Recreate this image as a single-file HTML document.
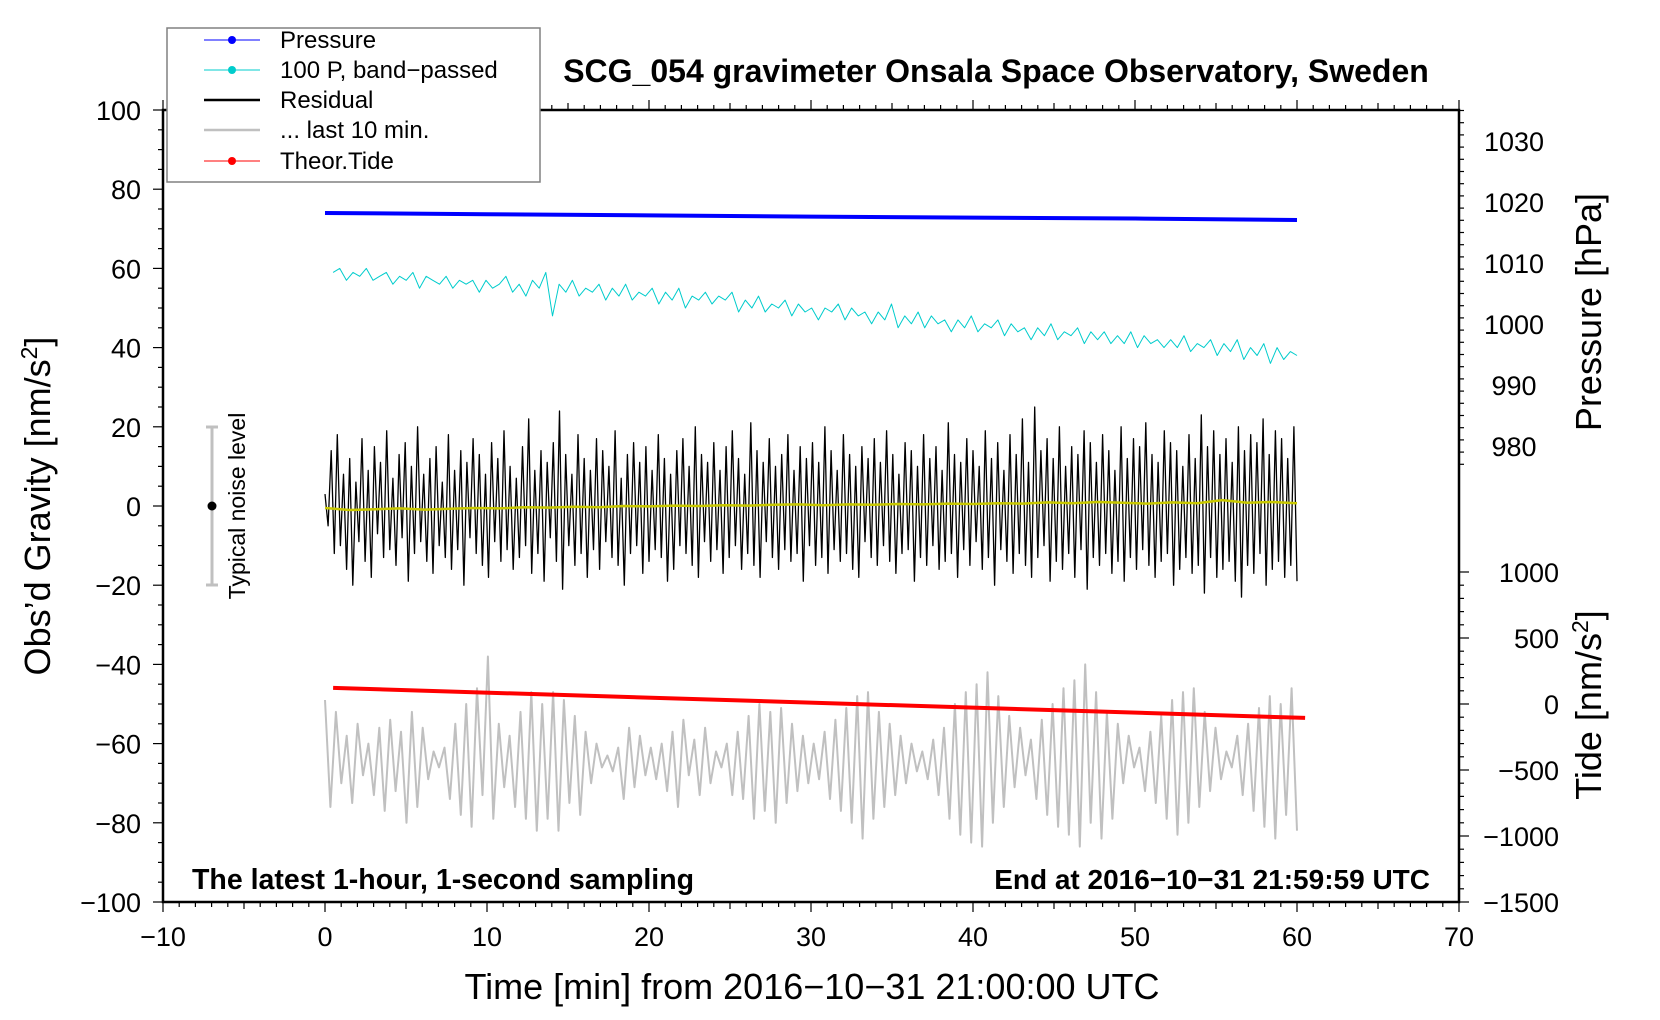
<!DOCTYPE html>
<html><head><meta charset="utf-8"><style>
html,body{margin:0;padding:0;background:#fff;width:1660px;height:1020px;overflow:hidden}
svg{display:block}
text{font-family:"Liberation Sans",sans-serif;fill:#000}
</style></head><body>
<svg id="chart" width="1660" height="1020" viewBox="0 0 1660 1020" xmlns="http://www.w3.org/2000/svg">
<g id="axes"></g>
<g id="series"></g>
<text x="996" y="82" font-size="32" font-weight="bold" text-anchor="middle">SCG_054 gravimeter Onsala Space Observatory, Sweden</text>
<text x="192" y="889" font-size="28.5" font-weight="bold">The latest 1-hour, 1-second sampling</text>
<text x="1430" y="889" font-size="28" font-weight="bold" text-anchor="end">End at 2016−10−31 21:59:59 UTC</text>
<text x="812" y="999" font-size="36" text-anchor="middle">Time [min] from 2016−10−31 21:00:00 UTC</text>
<text transform="translate(50,506) rotate(-90)" font-size="36" text-anchor="middle">Obs’d Gravity [nm/s<tspan font-size="23" dy="-13">2</tspan><tspan dy="13">]</tspan></text>
<text transform="translate(1601,312) rotate(-90)" font-size="36" text-anchor="middle">Pressure [hPa]</text>
<text transform="translate(1601,705) rotate(-90)" font-size="36" text-anchor="middle">Tide [nm/s<tspan font-size="23" dy="-13">2</tspan><tspan dy="13">]</tspan></text>
<g>
<line x1="212" y1="427" x2="212" y2="585" stroke="#c0c0c0" stroke-width="3"/>
<line x1="206" y1="427" x2="218" y2="427" stroke="#c0c0c0" stroke-width="3"/>
<line x1="206" y1="585" x2="218" y2="585" stroke="#c0c0c0" stroke-width="3"/>
<circle cx="212" cy="506" r="4.5" fill="#000"/>
<text transform="translate(245,506) rotate(-90)" font-size="23" text-anchor="middle">Typical noise level</text>
</g>
<g>
<rect x="167" y="28" width="373" height="154" fill="#fff" stroke="#808080" stroke-width="1.5"/>
<g><line x1="204" y1="40" x2="260" y2="40" stroke="#0000ff" stroke-width="1"/><circle cx="232" cy="40" r="4" fill="#0000ff"/><text x="280" y="48" font-size="24">Pressure</text></g>
<g><line x1="204" y1="70" x2="260" y2="70" stroke="#00cccc" stroke-width="1"/><circle cx="232" cy="70" r="4" fill="#00cccc"/><text x="280" y="78" font-size="24">100 P, band−passed</text></g>
<g><line x1="204" y1="100" x2="260" y2="100" stroke="#000" stroke-width="2.5"/><text x="280" y="108" font-size="24">Residual</text></g>
<g><line x1="204" y1="130" x2="260" y2="130" stroke="#c0c0c0" stroke-width="2.5"/><text x="280" y="138" font-size="24">... last 10 min.</text></g>
<g><line x1="204" y1="161" x2="260" y2="161" stroke="#ff0000" stroke-width="1"/><circle cx="232" cy="161" r="4" fill="#ff0000"/><text x="280" y="169" font-size="24">Theor.Tide</text></g>
</g>
</svg>
<script>
const xTicks=[-10,0,10,20,30,40,50,60,70];
const yTicks=[-100,-80,-60,-40,-20,0,20,40,60,80,100];
const pTicks=[980,990,1000,1010,1020,1030];
const tideTicks=[-1500,-1000,-500,0,500,1000];
const pressureTimes=[0,10,20,30,40,50,60];
const pressureVals=[1018.2,1018.0,1017.8,1017.6,1017.45,1017.3,1017.05];
const bandVals=[59,60,57,59,58,60,57,58,59,56,58,57,59,55,58,57,56,58,55,57,56,57,54,57,55,56,58,54,56,53,57,55,59,48,56,54,57,53,55,54,56,52,55,53,56,52,54,53,55,51,54,52,55,50,53,52,54,51,53,52,54,49,52,50,53,49,51,50,52,48,51,49,50,47,50,49,51,47,50,48,49,46,49,47,51,45,48,46,49,45,48,46,47,44,47,45,48,44,46,45,47,43,46,44,45,42,45,43,46,42,44,43,45,41,44,42,44,41,43,41,44,40,43,41,42,40,42,40,43,39,41,40,42,38,41,39,42,37,40,38,41,36,40,37,39,38];
const residVals=[3,-5,14,-12,18,-10,8,-16,12,-20,6,-9,17,-14,9,-18,15,-7,11,-13,19,-11,7,-15,13,-8,16,-19,10,-12,20,-9,8,-14,12,-17,15,-10,6,-13,18,-16,9,-11,14,-20,11,-8,17,-12,13,-15,8,-18,16,-9,12,-14,19,-11,10,-16,7,-13,15,-10,22,-17,9,-12,14,-19,11,-8,16,-14,24,-21,13,-10,8,-15,18,-12,12,-18,9,-11,17,-16,14,-9,10,-13,19,-15,7,-20,13,-12,16,-10,11,-17,15,-14,9,-11,18,-13,12,-19,8,-16,14,-10,17,-12,10,-15,20,-18,13,-9,11,-14,16,-11,9,-17,15,-13,19,-10,12,-16,8,-12,21,-15,14,-18,11,-9,17,-13,10,-16,13,-11,18,-14,9,-12,15,-19,12,-10,16,-15,11,-13,20,-17,14,-11,9,-14,18,-12,13,-16,10,-18,15,-9,12,-13,17,-15,11,-10,19,-14,13,-17,8,-12,16,-11,14,-19,10,-13,18,-15,12,-10,15,-16,9,-14,21,-12,13,-18,11,-11,17,-15,14,-9,10,-16,19,-13,12,-20,16,-11,9,-14,18,-17,13,-12,22,-15,11,-18,25,-13,14,-10,17,-19,12,-14,20,-16,10,-12,15,-18,13,-11,19,-21,16,-13,11,-15,18,-12,14,-17,9,-14,20,-19,12,-13,17,-16,15,-11,21,-15,13,-18,11,-14,19,-12,16,-20,14,-16,10,-13,18,-17,12,-15,23,-22,15,-13,19,-18,13,-16,17,-14,11,-19,20,-23,14,-15,18,-17,16,-12,22,-20,13,-16,19,-14,17,-18,12,-15,20,-19];
const meanVals=[-0.5,-1,-0.8,-0.6,-0.9,-0.7,-0.5,-0.6,-0.3,-0.4,-0.2,-0.3,0,-0.1,0.1,0,0.2,0.1,0.3,0.4,0.2,0.4,0.3,0.5,0.4,0.6,0.5,0.7,0.6,0.9,0.7,1,0.8,0.6,0.9,0.7,1.5,0.8,1,0.7];
const grayVals=[-49,-76,-52,-70,-58,-75,-55,-68,-60,-73,-56,-77,-54,-72,-57,-80,-52,-76,-56,-69,-62,-66,-61,-74,-55,-78,-50,-81,-46,-73,-38,-79,-55,-71,-58,-76,-52,-79,-47,-82,-50,-79,-47,-82,-49,-75,-53,-78,-57,-70,-60,-66,-63,-67,-61,-74,-56,-71,-58,-68,-61,-69,-60,-72,-57,-76,-54,-68,-59,-73,-56,-70,-62,-66,-60,-73,-57,-74,-53,-79,-50,-77,-52,-80,-51,-75,-55,-72,-58,-70,-60,-69,-57,-74,-54,-77,-51,-80,-48,-84,-47,-79,-52,-76,-55,-73,-58,-70,-60,-67,-62,-69,-59,-73,-56,-79,-50,-83,-47,-85,-45,-86,-42,-80,-48,-76,-53,-71,-56,-68,-59,-74,-54,-78,-50,-81,-46,-83,-44,-86,-40,-80,-47,-84,-52,-79,-55,-70,-58,-66,-61,-72,-57,-75,-53,-79,-49,-83,-47,-80,-46,-76,-52,-72,-56,-69,-62,-66,-58,-73,-55,-77,-51,-81,-48,-84,-50,-78,-46,-82];
const tideTimes=[0.5,60.5];
const tideVals=[122,-105];

const NS='http://www.w3.org/2000/svg';
const L=163,R=1459,T=110,B=902;
const xS=t=>L+(t+10)/80*(R-L);
const yS=v=>B-(v+100)/200*(B-T);
const pS=p=>446-(p-980)*6.1;
const tS=v=>704-v/500*66;
const axes=document.getElementById('axes'),ser=document.getElementById('series');
function mk(tag,attrs,parent){const e=document.createElementNS(NS,tag);for(const k in attrs)e.setAttribute(k,attrs[k]);parent.appendChild(e);return e;}

let frame=mk('rect',{x:L,y:T,width:R-L,height:B-T,fill:'none',stroke:'#000','stroke-width':2.5},axes);


for(let t=-10;t<=70;t+=1){const big=t%10===0;const len=big?10:(t%5===0?7:5);
 mk('line',{x1:xS(t),x2:xS(t),y1:B,y2:B+len,stroke:'#000','stroke-width':1.2},axes);
 mk('line',{x1:xS(t),x2:xS(t),y1:T,y2:T-len,stroke:'#000','stroke-width':1.2},axes);}
xTicks.forEach(t=>{const e=mk('text',{x:xS(t),y:B+44,'font-size':27,'text-anchor':'middle'},axes);e.textContent=String(t).replace('-','−');
 
 });
for(let v=-100;v<=100;v+=5){const big=v%20===0;mk('line',{x1:L,x2:L-(big?10:5),y1:yS(v),y2:yS(v),stroke:'#000','stroke-width':1.2},axes);}
yTicks.forEach(v=>{const e=mk('text',{x:L-22,y:yS(v)+10,'font-size':27,'text-anchor':'end'},axes);e.textContent=String(v).replace('-','−');
 
 });
for(let p=975;p<=1035;p+=2){const y=pS(p);if(y<T||y>470)continue;mk('line',{x1:R,x2:R+(p%10===0?10:5),y1:y,y2:y,stroke:'#000','stroke-width':1.2},axes);}
pTicks.forEach(p=>{const e=mk('text',{x:R+55,y:pS(p)+10,'font-size':27,'text-anchor':'middle'},axes);e.textContent=p;
 
 });
for(let v=-1500;v<=1000;v+=100){const y=tS(v);mk('line',{x1:R,x2:R+(v%500===0?10:5),y1:y,y2:y,stroke:'#000','stroke-width':1.2},axes);}
tideTicks.forEach(v=>{const e=mk('text',{x:R+100,y:tS(v)+10,'font-size':27,'text-anchor':'end'},axes);e.textContent=String(v).replace('-','−');
 
 });

function poly(xs,ys,color,w,name){const pts=xs.map((x,i)=>x.toFixed(1)+','+ys[i].toFixed(1)).join(' ');
 const e=mk('polyline',{points:pts,fill:'none',stroke:color,'stroke-width':w,'stroke-linejoin':'round'},ser);
 
 return e;}
const idxT=(arr,t0,t1)=>arr.map((_,i)=>t0+(t1-t0)*i/(arr.length-1));

poly(idxT(grayVals,0,60).map(xS),grayVals.map(yS),'#c0c0c0',2,'last-10-min-line');
poly(tideTimes.map(xS),tideVals.map(tS),'#ff0000',4,'theor-tide-line');
poly(idxT(residVals,0,60).map(xS),residVals.map(yS),'#000',1.3,'residual-line');
poly(idxT(meanVals,0,60).map(xS),meanVals.map(yS),'#c8c800',2.5,'residual-mean-line');
poly(idxT(bandVals,0.5,60).map(xS),bandVals.map(yS),'#00cccc',1,'band-passed-line');
poly(pressureTimes.map(xS),pressureVals.map(pS),'#0000ff',4,'pressure-line');
</script>
</body></html>
